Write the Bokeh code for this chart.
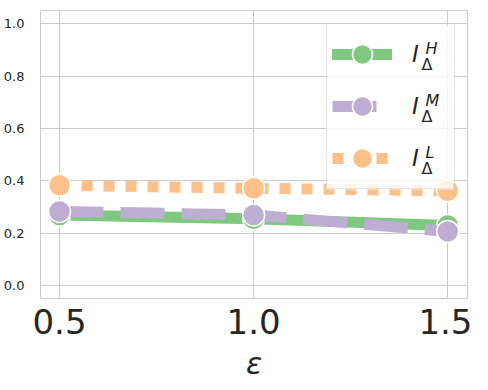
from bokeh.plotting import figure
from bokeh.models import (Legend, LegendItem, Label, FixedTicker, Range1d,
                          NumeralTickFormatter, BoxAnnotation)
from bokeh.embed import file_html
from bokeh.resources import INLINE

# ---- data ----
eps = [0.5, 1.0, 1.5]
I_H = [0.270, 0.255, 0.230]
I_M = [0.283, 0.270, 0.207]
I_L = [0.383, 0.372, 0.362]
series = [I_H, I_M, I_L]
sup_labels = ["H", "M", "L"]
colors = ["#7fc97f", "#beaed4", "#fdc086"]
dashes = ["solid", "44 17", "11 11"]
x_ticks = [0.5, 1.0, 1.5]
y_ticks = [0.0, 0.2, 0.4, 0.6, 0.8, 1.0]
x_label = "ε"

TXT = "#262626"
GRID = "#cccccc"
FONT = "DejaVu Sans"

p = figure(width=472, height=383, output_backend="svg", toolbar_location=None,
           x_range=Range1d(0.451, 1.551), y_range=Range1d(-0.0495, 1.0514),
           min_border_left=38, min_border_right=5, min_border_top=10, min_border_bottom=84)
p.background_fill_color = "white"
p.border_fill_color = "white"
p.outline_line_color = GRID
p.outline_line_width = 1

p.xaxis.ticker = FixedTicker(ticks=x_ticks)
p.yaxis.ticker = FixedTicker(ticks=y_ticks)
p.xaxis.formatter = NumeralTickFormatter(format="0.0")
p.yaxis.formatter = NumeralTickFormatter(format="0.0")
for ax in (p.xaxis, p.yaxis):
    ax.axis_line_color = None
    ax.major_tick_line_color = None
    ax.minor_tick_line_color = None
    ax.major_label_text_color = TXT
    ax.major_label_text_font = FONT
p.xaxis.major_label_text_font_size = "34px"
p.xaxis.major_label_standoff = 4
p.yaxis.major_label_text_font_size = "13px"
p.yaxis.major_label_standoff = 10
p.xaxis.axis_label = x_label
p.xaxis.axis_label_text_font = FONT
p.xaxis.axis_label_text_font_style = "italic"
p.xaxis.axis_label_text_font_size = "30px"
p.xaxis.axis_label_text_color = TXT
p.xaxis.axis_label_standoff = 9
p.xgrid.grid_line_color = GRID
p.ygrid.grid_line_color = GRID
p.xgrid.grid_line_width = 1
p.ygrid.grid_line_width = 1

items = []
for vals, col, dash in zip(series, colors, dashes):
    ln = p.line(eps, vals, line_color=col, line_width=11, line_dash=dash,
                line_cap="round" if dash == "solid" else "butt", line_join="round")
    sc = p.scatter(eps, vals, size=22, fill_color=col, line_color="white", line_width=1.5)
    items.append(LegendItem(label="I", renderers=[ln, sc]))

# semi-transparent legend background
p.add_layout(BoxAnnotation(left=286, right=413, bottom=109, top=273,
                           left_units="screen", right_units="screen",
                           bottom_units="screen", top_units="screen",
                           fill_color="white", fill_alpha=0.8, line_color=None))

legend = Legend(items=items, location=(286, 109), orientation="vertical",
                padding=5, spacing=2, glyph_width=60, glyph_height=50,
                label_standoff=20, label_width=37,
                label_text_font=FONT, label_text_font_style="italic",
                label_text_font_size="23px", label_text_color=TXT,
                border_line_color=GRID, border_line_width=1,
                background_fill_alpha=0.0)
p.add_layout(legend, "center")

for i, s in enumerate(sup_labels):
    p.add_layout(Label(x=385, y=250.5 - 52 * i, x_units="screen", y_units="screen",
                       text=s, text_font=FONT, text_font_style="italic",
                       text_font_size="16px", text_color=TXT,
                       text_align="left", text_baseline="middle"))
    p.add_layout(Label(x=381, y=234 - 52 * i, x_units="screen", y_units="screen",
                       text="Δ", text_font=FONT, text_font_style="normal",
                       text_font_size="16px", text_color=TXT,
                       text_align="left", text_baseline="middle"))

open("out.html", "w").write(file_html(p, INLINE))
